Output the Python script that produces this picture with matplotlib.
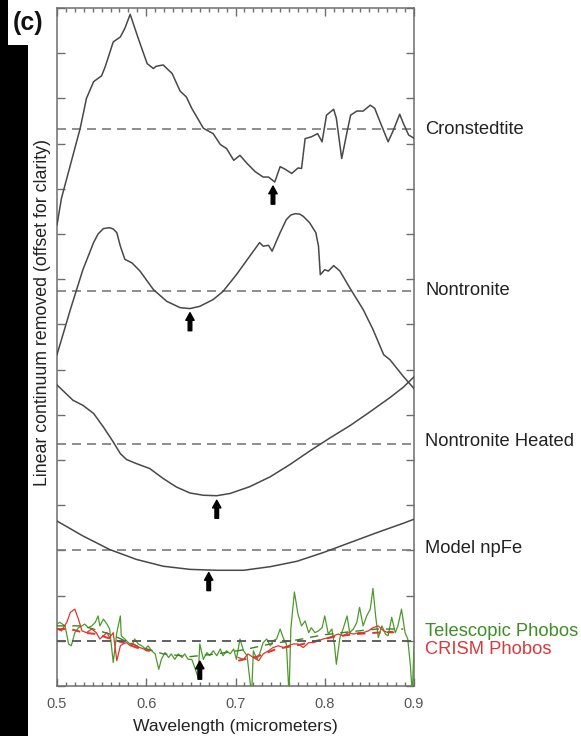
import matplotlib
matplotlib.use("Agg")
import matplotlib.pyplot as plt
import numpy as np
from matplotlib.patches import Polygon
from matplotlib.ticker import MultipleLocator
from matplotlib.transforms import blended_transform_factory

plt.rcParams['font.family'] = ['Liberation Sans', 'DejaVu Sans']
plt.rcParams['lines.scale_dashes'] = False

# ---------------- data (continuum removed, relative to each baseline) ----------------
names = ["Cronstedtite", "Nontronite", "Nontronite Heated", "Model npFe"]
offsets = [12.32, 8.75, 5.35, 3.0]
phobos_offset = 1.0

cron_x = [0.500, 0.505, 0.526, 0.533, 0.541, 0.550, 0.554, 0.563, 0.571, 0.576, 0.582, 0.591, 0.601, 0.608,
          0.611, 0.619, 0.629, 0.638, 0.645, 0.651, 0.664, 0.675, 0.683, 0.690, 0.698, 0.705, 0.713, 0.722,
          0.731, 0.737, 0.744, 0.750, 0.755, 0.763, 0.770, 0.774, 0.778, 0.785, 0.792, 0.797, 0.802, 0.810,
          0.813, 0.819, 0.825, 0.829, 0.836, 0.843, 0.851, 0.856, 0.862, 0.871, 0.877, 0.884, 0.888, 0.894, 0.900]
cron_y = [-2.12, -1.53, 0.02, 0.68, 1.05, 1.18, 1.38, 1.93, 2.04, 2.23, 2.54, 2.01, 1.45, 1.34,
          1.39, 1.42, 1.23, 0.84, 0.71, 0.46, 0.02, -0.10, -0.34, -0.43, -0.69, -0.58, -0.76, -0.94,
          -1.06, -1.06, -1.17, -0.83, -0.88, -0.98, -0.86, -0.87, -0.21, -0.17, -0.10, -0.28, 0.31, 0.44,
          0.24, -0.65, -0.06, 0.31, 0.40, 0.40, 0.53, 0.46, 0.16, -0.28, -0.02, 0.33, 0.13, -0.13, -0.20]

nont_x = [0.500, 0.515, 0.529, 0.541, 0.546, 0.552, 0.559, 0.563, 0.567, 0.571, 0.576, 0.584, 0.593, 0.608,
          0.623, 0.638, 0.649, 0.660, 0.675, 0.686, 0.701, 0.716, 0.727, 0.731, 0.737, 0.741, 0.750, 0.757,
          0.762, 0.767, 0.772, 0.776, 0.783, 0.790, 0.793, 0.795, 0.800, 0.804, 0.810, 0.817, 0.828, 0.843,
          0.854, 0.866, 0.873, 0.888, 0.900]
nont_y = [-1.42, -0.42, 0.46, 1.06, 1.25, 1.37, 1.39, 1.36, 1.28, 0.98, 0.69, 0.61, 0.43, 0.02,
          -0.24, -0.38, -0.40, -0.35, -0.20, -0.02, 0.35, 0.76, 1.06, 0.98, 1.00, 0.87, 1.28, 1.57,
          1.67, 1.70, 1.69, 1.64, 1.50, 1.28, 0.98, 0.35, 0.46, 0.43, 0.55, 0.43, 0.06, -0.42,
          -0.86, -1.42, -1.53, -1.90, -2.17]

heat_x = [0.500, 0.518, 0.529, 0.541, 0.552, 0.563, 0.571, 0.578, 0.589, 0.604, 0.619, 0.634, 0.649,
          0.664, 0.679, 0.694, 0.716, 0.739, 0.761, 0.784, 0.806, 0.829, 0.851, 0.873, 0.888, 0.900]
heat_y = [1.31, 0.97, 0.86, 0.68, 0.38, 0.05, -0.21, -0.34, -0.43, -0.54, -0.76, -0.95, -1.08,
          -1.13, -1.14, -1.09, -0.94, -0.72, -0.45, -0.14, 0.14, 0.42, 0.72, 1.03, 1.26, 1.49]

npfe_x = [0.500, 0.529, 0.559, 0.589, 0.619, 0.649, 0.679, 0.709, 0.739, 0.769, 0.798, 0.828, 0.858, 0.888, 0.900]
npfe_y = [0.65, 0.32, 0.02, -0.20, -0.35, -0.42, -0.44, -0.44, -0.36, -0.24, -0.05, 0.17, 0.39, 0.60, 0.69]

tele_x = [0.500, 0.503, 0.509, 0.513, 0.516, 0.520, 0.524, 0.528, 0.531, 0.535, 0.539, 0.543, 0.546, 0.548,
          0.552, 0.556, 0.559, 0.563, 0.567, 0.571, 0.572, 0.576, 0.580, 0.584, 0.587, 0.591, 0.595, 0.599,
          0.602, 0.606, 0.610, 0.614, 0.617, 0.621, 0.625, 0.628, 0.632, 0.636, 0.640, 0.643, 0.647, 0.651,
          0.655, 0.658, 0.660, 0.664, 0.668, 0.671, 0.675, 0.679, 0.683, 0.686, 0.690, 0.694, 0.698, 0.701,
          0.705, 0.709, 0.713, 0.716, 0.718, 0.720, 0.724, 0.727, 0.731, 0.735, 0.739, 0.742, 0.746, 0.750,
          0.754, 0.757, 0.760, 0.762, 0.766, 0.770, 0.774, 0.778, 0.782, 0.785, 0.789, 0.793, 0.797, 0.800,
          0.804, 0.808, 0.811, 0.813, 0.817, 0.821, 0.825, 0.828, 0.832, 0.836, 0.839, 0.843, 0.847, 0.851,
          0.854, 0.857, 0.860, 0.864, 0.868, 0.871, 0.875, 0.879, 0.882, 0.886, 0.890, 0.893, 0.896, 0.898, 0.900]
tele_y = [0.37, 0.41, 0.33, -0.07, -0.11, 0.18, 0.29, 0.33, 0.37, 0.29, 0.33, 0.41, 0.55, 0.33,
          0.48, 0.37, 0.26, -0.48, 0.18, 0.55, 0.11, 0.04, -0.04, -0.11, 0.04, -0.07, -0.11, -0.18,
          -0.11, -0.22, -0.29, -0.63, -0.41, -0.26, -0.37, -0.29, -0.41, -0.29, -0.37, -0.29, -0.41, -0.41,
          -0.63, -0.81, -0.07, -0.41, -0.26, -0.33, -0.22, -0.33, -0.18, -0.33, -0.22, -0.29, -0.18, -0.41,
          0.04, -0.22, -0.33, -0.85, -1.20, -0.22, -0.41, -0.29, -0.04, 0.04, -0.11, 0.00, 0.04, 0.26,
          0.04, -0.07, -1.20, 0.26, 1.08, 0.59, 0.33, 0.44, 0.18, 0.29, 0.18, 0.22, 0.29, 0.55,
          0.15, 0.26, -0.11, -0.52, 0.07, 0.29, 0.55, 0.18, 0.26, 0.41, 0.74, 0.33, 0.55, 0.70,
          1.16, 0.55, 0.07, 0.33, 0.15, 0.11, 0.52, 0.18, 0.33, 0.70, 0.18, 0.04, -0.55, -1.20, -0.11]

tele_smooth_x = [0.500, 0.529, 0.559, 0.589, 0.619, 0.649, 0.679, 0.709, 0.739, 0.769, 0.798, 0.828, 0.858, 0.888]
tele_smooth_y = [0.33, 0.33, 0.15, -0.11, -0.29, -0.35, -0.29, -0.20, -0.07, 0.02, 0.13, 0.20, 0.26, 0.26]

crism_x_a = [0.500, 0.505, 0.511, 0.515, 0.520, 0.524, 0.528, 0.533, 0.539, 0.544, 0.548, 0.552, 0.556,
             0.559, 0.563, 0.567, 0.571, 0.574, 0.578, 0.582, 0.586, 0.589, 0.593, 0.597, 0.600, 0.604]
crism_y_a = [0.26, 0.22, 0.41, 0.63, 0.70, 0.48, 0.22, 0.18, 0.26, 0.18, 0.04, 0.11, 0.18,
             0.07, 0.18, -0.44, -0.11, -0.07, -0.04, -0.11, -0.07, -0.11, -0.15, -0.18, -0.22, -0.22]
crism_x_b = [0.703, 0.709, 0.714, 0.720, 0.726, 0.731, 0.737, 0.742, 0.748, 0.754, 0.759, 0.765, 0.770,
             0.776, 0.782, 0.787, 0.793, 0.798, 0.804, 0.810, 0.815, 0.821, 0.826, 0.832, 0.838, 0.843,
             0.849, 0.854, 0.860, 0.866, 0.871, 0.877]
crism_y_b = [-0.37, -0.41, -0.29, -0.37, -0.44, -0.29, -0.22, -0.15, -0.11, -0.15, -0.11, -0.07, -0.07,
             -0.15, -0.04, -0.04, 0.00, 0.04, 0.07, 0.11, 0.15, 0.11, 0.18, 0.15, 0.18, 0.18,
             0.22, 0.29, 0.33, 0.22, 0.18, 0.18]
crism_smooth_x_a = [0.500, 0.515, 0.530, 0.544, 0.559, 0.574, 0.589, 0.604]
crism_smooth_y_a = [0.26, 0.26, 0.18, 0.15, 0.05, -0.04, -0.15, -0.22]
crism_smooth_x_b = [0.703, 0.724, 0.746, 0.769, 0.791, 0.813, 0.836, 0.858, 0.877]
crism_smooth_y_b = [-0.44, -0.35, -0.18, -0.10, 0.00, 0.10, 0.15, 0.18, 0.20]

# band-centre arrows: wavelength and tip height relative to baseline
arrow_x = [0.742, 0.649, 0.679, 0.670, 0.660]
arrow_tip = [-1.26, -0.49, -1.24, -0.49, -0.45]

xtick_vals = [0.5, 0.6, 0.7, 0.8, 0.9]
xtick_labels = ["0.5", "0.6", "0.7", "0.8", "0.9"]

# ---------------- figure ----------------
W, H = 581, 736
fig = plt.figure(figsize=(W / 100, H / 100), dpi=100)
fig.patch.set_facecolor('white')
fig.patches.append(Polygon([[0, 0], [28 / W, 0], [28 / W, 1 - 45 / H], [8 / W, 1 - 45 / H], [8 / W, 1], [0, 1]],
                           closed=True, transform=fig.transFigure, facecolor='black', edgecolor='none'))

ax = fig.add_axes([57 / W, 50 / H, 357 / W, 678 / H])
ax.set_xlim(0.5, 0.9)
ax.set_ylim(0, 15)

curve_col = '#484848'
dash_col = '#7a7a7a'
spectra = [(cron_x, cron_y), (nont_x, nont_y), (heat_x, heat_y), (npfe_x, npfe_y)]
for (xs, ys), off in zip(spectra, offsets):
    ax.plot(xs, np.array(ys) + off, color=curve_col, lw=1.1, zorder=3, solid_joinstyle='round')
    ax.axhline(off, color=dash_col, lw=1.2, dashes=(6.5, 4.3), zorder=2)

# Phobos
green = '#4c9a2a'
red = '#d8392e'
ax.plot(tele_x, np.array(tele_y) + phobos_offset, color=green, lw=0.9, zorder=3)
ax.plot(tele_smooth_x, np.array(tele_smooth_y) + phobos_offset, color='#3a8224', lw=1.0,
        dashes=(6, 5), zorder=4)
ax.plot(crism_x_a, np.array(crism_y_a) + phobos_offset, color=red, lw=0.9, zorder=4)
ax.plot(crism_x_b, np.array(crism_y_b) + phobos_offset, color=red, lw=0.9, zorder=4)
ax.plot(crism_smooth_x_a, np.array(crism_smooth_y_a) + phobos_offset, color=red, lw=1.4, dashes=(6, 5), zorder=5)
ax.plot(crism_smooth_x_b, np.array(crism_smooth_y_b) + phobos_offset, color=red, lw=1.4, dashes=(6, 5), zorder=5)
ax.axhline(phobos_offset, color='#555555', lw=1.3, dashes=(6.5, 4.3), zorder=6)

# arrows
all_offsets = offsets + [phobos_offset]
for xa, tip, off in zip(arrow_x, arrow_tip, all_offsets):
    ax.annotate('', xy=(xa, off + tip), xytext=(xa, off + tip - 0.40),
                arrowprops=dict(facecolor='black', edgecolor='black', width=2.6, headwidth=6.0,
                                headlength=5.5, shrink=0), zorder=7)

# right-hand labels
tr = blended_transform_factory(ax.transAxes, ax.transData)
label_shift = [0.0, 0.0, 0.07, 0.04]
for name, off, sh in zip(names, offsets, label_shift):
    ax.text(1.031, off + sh, name, transform=tr, ha='left', va='center', fontsize=13.2,
            color='#222222', clip_on=False)
ax.text(1.031, phobos_offset + 0.21, "Telescopic Phobos", transform=tr, ha='left', va='center',
        fontsize=13.2, color='#3f8f26', clip_on=False)
ax.text(1.031, phobos_offset - 0.19, "CRISM Phobos", transform=tr, ha='left', va='center',
        fontsize=13.2, color='#d83a3a', clip_on=False)

# axes styling
for s in ax.spines.values():
    s.set_color('#6e6e6e')
    s.set_linewidth(1.1)
ax.xaxis.set_major_locator(MultipleLocator(0.1))
ax.xaxis.set_minor_locator(MultipleLocator(0.01))
ax.yaxis.set_major_locator(MultipleLocator(1))
ax.set_xticks(xtick_vals)
ax.set_xticklabels(xtick_labels)
ax.tick_params(which='both', direction='in', top=True, right=True, color='#6e6e6e', width=1.0)
ax.tick_params(which='major', length=6)
ax.tick_params(which='minor', length=3)
ax.tick_params(axis='y', labelleft=False)
ax.tick_params(axis='x', labelsize=10.5, labelcolor='#555555', pad=8)
ax.set_xlabel("Wavelength (micrometers)", fontsize=12.6, color='#222222', labelpad=6)

fig.text(43 / W, 1 - 313 / H, "Linear continuum removed (offset for clarity)", rotation=90,
         ha='center', va='center', fontsize=12.8, color='#222222')
fig.text(13 / W, 1 - 23 / H, "(c)", fontsize=18, fontweight='bold', ha='left', va='center', color='#111111')

fig.savefig("out.png", dpi=100)
